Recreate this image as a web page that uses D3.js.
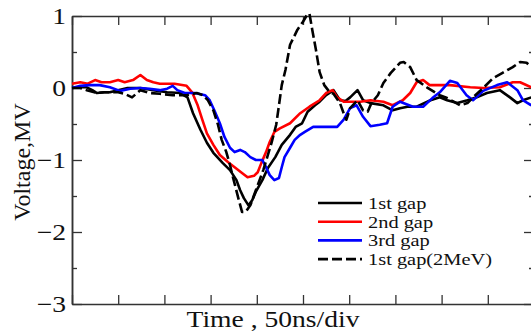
<!DOCTYPE html>
<html>
<head>
<meta charset="utf-8">
<script src="https://cdn.jsdelivr.net/npm/d3@7"></script>
<style>
  body { margin: 0; background: #fff; }
  svg text { font-family: "Liberation Serif", "Times New Roman", serif; fill: #111; }
</style>
</head>
<body>
<div class="container"></div>
<script>
const WIDTH = 531;
const HEIGHT = 335;

// time in ns (50 ns per division), voltage in MV
const gap1Time = [0,9,16,22,27,35,41,50,60,74,88,103,117,125,131,139,146,153,163,171,178,182,186,191,195,199,206,212,220,227,236,242,249,255,263,268,275,283,290,296,301,309,315,323,337,347,355,363,373,388,398,406,417,428,438,449,463,474,482,488,497];
const gap1Volt = [0,0.01,0.01,-0.03,-0.07,-0.06,-0.06,-0.03,0,0,-0.03,-0.06,-0.07,-0.13,-0.35,-0.58,-0.76,-0.9,-1.04,-1.14,-1.28,-1.42,-1.53,-1.63,-1.56,-1.44,-1.28,-1.11,-0.96,-0.79,-0.65,-0.54,-0.49,-0.33,-0.24,-0.19,-0.1,-0.03,-0.17,-0.18,-0.13,-0.03,-0.17,-0.21,-0.24,-0.31,-0.28,-0.26,-0.26,-0.17,-0.13,-0.17,-0.21,-0.17,-0.13,-0.07,-0.03,-0.13,-0.21,-0.17,-0.13];

const gap2Time = [0,9,17,25,32,41,50,57,66,74,81,88,95,103,111,124,130,136,141,146,153,160,169,176,184,190,197,201,205,210,214,219,225,236,247,257,268,275,282,287,294,304,312,323,337,347,358,366,373,380,387,409,431,445,463,477,485,497];
const gap2Volt = [0.06,0.08,0.06,0.11,0.08,0.08,0.11,0.08,0.11,0.18,0.11,0.08,0.06,0.06,0.06,0.03,-0.06,-0.24,-0.44,-0.63,-0.79,-0.93,-1.03,-1.1,-1.18,-1.24,-1.22,-1.17,-1.04,-0.89,-0.75,-0.61,-0.56,-0.49,-0.35,-0.26,-0.17,-0.07,-0.03,-0.13,-0.19,-0.19,-0.19,-0.17,-0.19,-0.24,-0.17,-0.07,0.08,0.11,0.04,0.04,0.01,0,0.01,0.08,0.08,0.01];

const gap3Time = [0,9,19,30,41,52,63,74,84,95,103,109,114,122,133,144,149,154,160,165,171,176,182,187,193,199,206,210,214,219,224,227,230,236,241,247,252,261,274,287,294,301,308,315,323,333,341,347,355,369,380,390,398,409,417,427,434,445,460,471,482,488,497];
const gap3Volt = [0,0.03,0.04,0.04,0.01,-0.04,-0.01,0,-0.01,-0.03,-0.01,0.03,-0.03,-0.07,-0.07,-0.1,-0.17,-0.31,-0.49,-0.68,-0.83,-0.89,-0.86,-0.89,-0.96,-1,-1,-1.1,-1.21,-1.28,-1.25,-1.1,-0.96,-0.83,-0.72,-0.65,-0.61,-0.54,-0.54,-0.54,-0.44,-0.28,-0.24,-0.4,-0.53,-0.51,-0.49,-0.26,-0.19,-0.26,-0.26,-0.14,-0.06,0.1,0.07,-0.1,-0.17,-0.04,0.04,0.08,-0.03,-0.17,-0.24];

const gap1HiTime = [0,9,16,27,35,41,50,57,65,74,84,95,109,124,135,142,147,153,158,162,167,171,175,180,184,188,193,197,201,207,212,216,221,224,227,231,236,244,250,255,257,260,264,268,273,279,283,290,294,297,301,309,315,320,324,331,337,345,355,359,366,373,384,398,406,413,420,428,434,445,456,466,477,485,492,497];
const gap1HiVolt = [0,0,-0.03,-0.07,-0.06,-0.06,-0.06,-0.08,-0.13,-0.03,-0.07,-0.08,-0.1,-0.1,-0.07,-0.1,-0.17,-0.31,-0.51,-0.72,-0.89,-1.07,-1.28,-1.53,-1.72,-1.72,-1.63,-1.49,-1.35,-1.14,-0.93,-0.76,-0.51,-0.24,0.04,0.25,0.6,0.81,0.92,1.03,1.03,0.81,0.53,0.22,0.04,-0.06,-0.08,-0.21,-0.35,-0.44,-0.28,-0.17,-0.31,-0.33,-0.21,-0.1,0.07,0.21,0.35,0.36,0.29,0.11,0.01,-0.1,-0.14,-0.19,-0.24,-0.21,-0.13,0,0.14,0.21,0.29,0.36,0.35,0.29];

const seriesNames = ["1st gap", "2nd gap", "3rd gap", "1st gap(2MeV)"];
const seriesColors = ["#000000", "#ff0000", "#0000ff", "#000000"];
const seriesDash = [null, null, null, "10,4"];
const seriesTime = [gap1Time, gap2Time, gap3Time, gap1HiTime];
const seriesVolt = [gap1Volt, gap2Volt, gap3Volt, gap1HiVolt];

const timeTicks = d3.range(0, 501, 50);
const voltTicks = [-3, -2, -1, 0, 1];
const voltMinorTicks = [-2.5, -1.5, -0.5, 0.5];

// the original figure is stretched sideways, so horizontal text gets the same squash
const STRETCH = "scale(1.2,1)";

var translate = function(x, y){
    return "translate(" + x + "," + y + ")";
};

var xScale = d3.scaleLinear().domain([0, 500]).range([72, 534]);
var yScale = d3.scaleLinear().domain([-3, 1]).range([304, 16]);

var svg = d3.select('.container').append('svg')
    .attr('width', WIDTH)
    .attr('height', HEIGHT);

// frame axes, ticks pointing inward
var styleAxis = function(g){
    g.selectAll('path.domain').attr('stroke', '#333').attr('stroke-width', 1.5);
    g.selectAll('.tick line').attr('stroke', '#333').attr('stroke-width', 1.3);
};

svg.append('g').attr('transform', translate(0, 304))
    .call(d3.axisBottom(xScale).tickValues(timeTicks).tickSize(-9).tickSizeOuter(0).tickFormat(''))
    .call(styleAxis);
svg.append('g').attr('transform', translate(0, 16))
    .call(d3.axisTop(xScale).tickValues(timeTicks).tickSize(-9).tickSizeOuter(0).tickFormat(''))
    .call(styleAxis);

var leftAxis = svg.append('g').attr('transform', translate(72, 0))
    .call(d3.axisLeft(yScale).tickValues(voltTicks).tickSize(-10).tickSizeOuter(0).tickPadding(5).tickFormat(d3.format('d')))
    .call(styleAxis);
leftAxis.selectAll('.tick text')
    .style('font-size', '23px')
    .attr('transform', STRETCH);
svg.append('g').attr('transform', translate(72, 0))
    .call(d3.axisLeft(yScale).tickValues(voltMinorTicks).tickSize(-5).tickSizeOuter(0).tickFormat(''))
    .call(styleAxis);

svg.append('g').attr('transform', translate(534, 0))
    .call(d3.axisRight(yScale).tickValues(voltTicks).tickSize(-10).tickSizeOuter(0).tickFormat(''))
    .call(styleAxis);
svg.append('g').attr('transform', translate(534, 0))
    .call(d3.axisRight(yScale).tickValues(voltMinorTicks).tickSize(-5).tickSizeOuter(0).tickFormat(''))
    .call(styleAxis);

// curves
var line = d3.line()
    .x(function(d){ return xScale(d.t); })
    .y(function(d){ return yScale(d.v); });

for (var i = 0; i < seriesNames.length; i++) {
    var points = seriesTime[i].map(function(t, j){ return {t: t, v: seriesVolt[i][j]}; });
    svg.append('path')
        .datum(points)
        .attr('d', line)
        .attr('fill', 'none')
        .attr('stroke', seriesColors[i])
        .attr('stroke-width', 2.6)
        .attr('stroke-linejoin', 'round')
        .attr('stroke-dasharray', seriesDash[i]);
}

// legend
var legend = svg.append('g').attr('transform', translate(318, 203));
seriesNames.forEach(function(name, i){
    var row = legend.append('g').attr('transform', translate(0, i * 18.7));
    row.append('line')
        .attr('x1', 0).attr('x2', 44)
        .attr('stroke', seriesColors[i])
        .attr('stroke-width', 2.6)
        .attr('stroke-dasharray', seriesDash[i]);
    row.append('text')
        .attr('transform', translate(50, 6) + ' ' + STRETCH)
        .style('font-size', '17px')
        .text(name);
});

// axis titles
svg.append('text')
    .attr('transform', translate(273, 327) + ' ' + STRETCH)
    .attr('text-anchor', 'middle')
    .style('font-size', '23px')
    .text('Time , 50ns/div');

svg.append('text')
    .attr('transform', translate(30, 162) + ' rotate(-90)')
    .attr('text-anchor', 'middle')
    .style('font-size', '24px')
    .text('Voltage,MV');
</script>
</body>
</html>
